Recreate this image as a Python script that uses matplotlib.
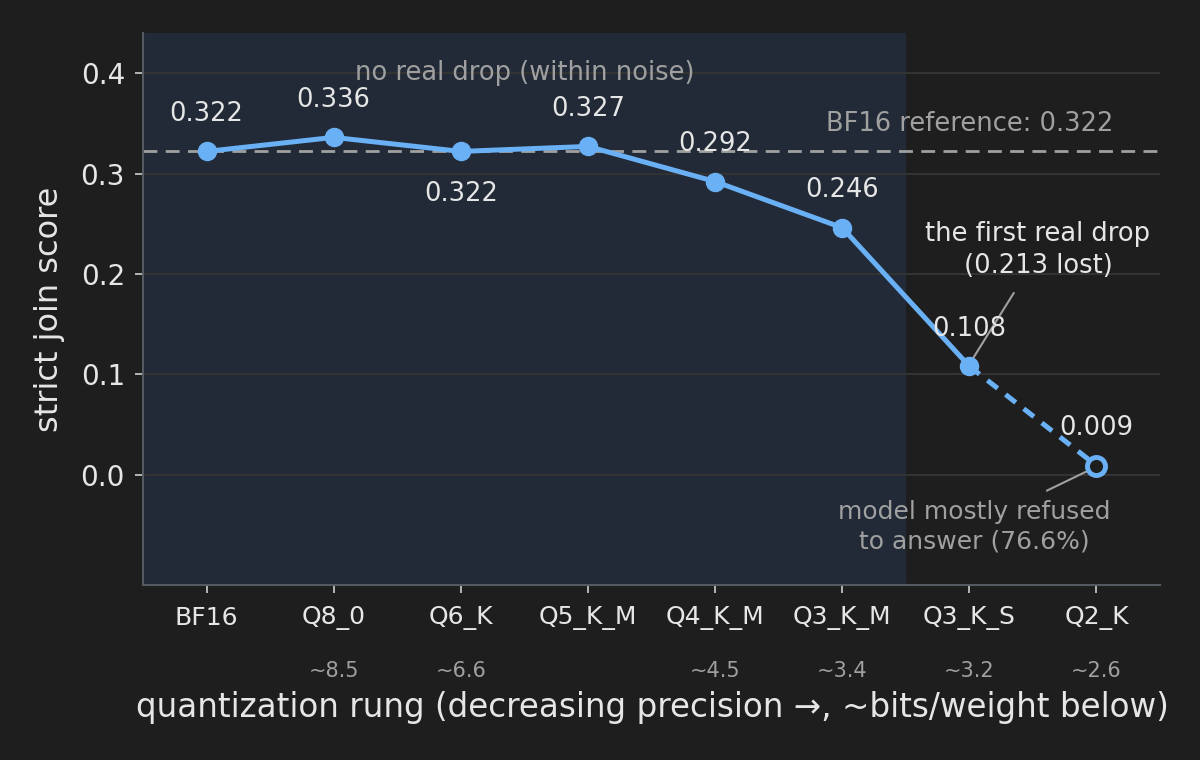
import matplotlib
matplotlib.use("Agg")
import matplotlib.pyplot as plt
import matplotlib.transforms as mtransforms

rungs = ["BF16", "Q8_0", "Q6_K", "Q5_K_M", "Q4_K_M", "Q3_K_M", "Q3_K_S", "Q2_K"]
scores = [0.322, 0.336, 0.322, 0.327, 0.292, 0.246, 0.108, 0.009]
bits = ["", "~8.5", "~6.6", "", "~4.5", "~3.4", "~3.2", "~2.6"]
label_below = [False, False, True, False, False, False, False, False]
reference = 0.322

BG = "#1e1e1e"
SPAN = "#212a36"
BLUE = "#6ab0f5"
GRAY = "#a0a0a0"
LIGHT = "#e6e6e6"

fig = plt.figure(figsize=(12, 7.6), dpi=100, facecolor=BG)
ax = fig.add_axes([143/1200, 1-585/760, (1160-143)/1200, (585-33)/760])
ax.set_facecolor(BG)

x = list(range(len(rungs)))
ax.axvspan(-0.5, 5.5, color=SPAN, zorder=0, lw=0)
ax.grid(axis="y", color="#333333", lw=1.5, zorder=1)
ax.axhline(reference, color=GRAY, lw=2, ls=(0, (5, 3)), zorder=2)

ax.plot(x[:7], scores[:7], color=BLUE, lw=3.6, marker="o", ms=13, zorder=4)
ax.plot(x[6:], scores[6:], color=BLUE, lw=3.6, ls=(0, (2.6, 2)), zorder=3)
ax.plot(x[7], scores[7], marker="o", ms=13, mfc=BG, mec=BLUE, mew=3.5, zorder=5, ls="none")

for xi, s, below in zip(x, scores, label_below):
    off = -31 if below else 27
    ax.annotate(f"{s:.3f}", (xi, s), xytext=(0, off), textcoords="offset points",
                ha="center", va="center", color=LIGHT, fontsize=18.5, zorder=6)

ax.text(2.5, 0.4, "no real drop (within noise)", ha="center", va="center",
        color=GRAY, fontsize=18.5)
ax.text(7.13, 0.349, f"BF16 reference: {reference:.3f}", ha="right", va="center",
        color=GRAY, fontsize=18.5)

ax.text(6.54, 0.224, "the first real drop\n(0.213 lost)", ha="center", va="center",
        color=LIGHT, fontsize=18.5, linespacing=1.3)
ax.annotate("", xy=(6.01, 0.112), xytext=(6.35, 0.181),
            arrowprops=dict(arrowstyle="-", color=GRAY, lw=1.5, shrinkA=0, shrinkB=0))
ax.text(6.04, -0.052, "model mostly refused\nto answer (76.6%)", ha="center", va="center",
        color=GRAY, fontsize=18, linespacing=1.3)
ax.annotate("", xy=(6.92, 0.003), xytext=(6.61, -0.016),
            arrowprops=dict(arrowstyle="-", color=GRAY, lw=1.5, shrinkA=0, shrinkB=0))

ax.set_xlim(-0.5, 7.5)
ax.set_ylim(-0.11, 0.44)
ax.set_yticks([0.0, 0.1, 0.2, 0.3, 0.4])
ax.set_xticks(x)
ax.set_xticklabels(rungs)
ax.tick_params(axis="x", colors="#cfcfcf", labelsize=18, length=6, width=1.2, pad=9, labelcolor=LIGHT)
ax.tick_params(axis="y", colors="#cfcfcf", labelsize=20, length=6, width=1.2, pad=7, labelcolor=LIGHT)

trans = mtransforms.blended_transform_factory(ax.transData, fig.transFigure)
for xi, b in zip(x, bits):
    if b:
        fig.text(xi, 1-671/760, b, transform=trans, ha="center", va="center",
                 color=GRAY, fontsize=15)

for side in ["top", "right"]:
    ax.spines[side].set_visible(False)
for side in ["left", "bottom"]:
    ax.spines[side].set_color("#555a60")
    ax.spines[side].set_linewidth(1.5)

ax.set_ylabel("strict join score", color=LIGHT, fontsize=23)
ax.yaxis.set_label_coords(-0.077, 0.5)
fig.text((132+1172)/2/1200, 1-707/760,
         "quantization rung (decreasing precision →, ~bits/weight below)",
         ha="center", va="center", color=LIGHT, fontsize=23.5)

fig.savefig("out.png", dpi=100, facecolor=BG)
